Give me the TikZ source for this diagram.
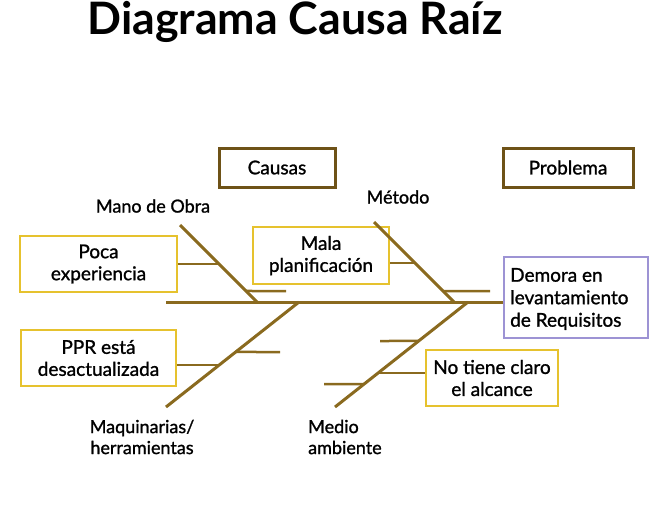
\documentclass[tikz,border=0pt]{standalone}
\usepackage{fontspec}
\setmainfont{Lato}
\newfontfamily\semilato[FakeBold=1.2]{Lato}

\definecolor{bonebrown}{HTML}{8A6A1F}
\definecolor{headbrown}{HTML}{6E5217}
\definecolor{causeyellow}{HTML}{E6C22E}
\definecolor{effectpurple}{HTML}{9D93D4}

\tikzstyle{fishfig}=[x=1pt,y=-1pt,font=\semilato]
\tikzstyle{bone}=[line width=3pt,draw=bonebrown]
\tikzstyle{rib}=[line width=2.5pt,draw=bonebrown]
\tikzstyle{causebox}=[draw=causeyellow,line width=2.5pt,align=center,
  font=\semilato\fontsize{19}{22}\selectfont,inner sep=0pt]
\tikzstyle{headbox}=[draw=headbrown,line width=3pt,
  font=\semilato\fontsize{19}{22}\selectfont,inner sep=0pt]
\tikzstyle{tag}=[font=\semilato\fontsize{18}{21}\selectfont,inner sep=0pt]

\begin{document}
\begin{tikzpicture}[style=fishfig]
\useasboundingbox (0,0) rectangle (668,507);

\node[font=\rmfamily\bfseries\fontsize{44.7}{50}\selectfont] (title) at (295,22) {Diagrama Causa Raíz};

\node[headbox,minimum width=116pt,minimum height=39pt] (causas) at (277,167.5) {Causas};
\node[headbox,minimum width=130pt,minimum height=39pt] (problema) at (568,167.5) {Problema};

\node[causebox,minimum width=157pt,minimum height=56pt] (poca) at (98.5,264) {Poca\\experiencia};
\node[causebox,minimum width=155pt,minimum height=56pt] (ppr) at (98.5,358) {PPR está\\desactualizada};
\node[causebox,minimum width=136pt,minimum height=57pt] (mala) at (321,255.5) {Mala\\planificación};
\node[causebox,minimum width=132pt,minimum height=56pt] (alcance) at (492,378) {No tiene claro\\el alcance};
\node[draw=effectpurple,line width=2.5pt,minimum width=144pt,minimum height=81pt,
  inner sep=0pt] (demora) at (576,297.5) {};
\node[anchor=west,align=left,font=\semilato\fontsize{19}{22.5}\selectfont,inner sep=0pt]
  (demoratxt) at (510,299) {Demora en\\levantamiento\\de Requisitos};

\node[tag] (mano) at (153,206) {Mano de Obra};
\node[tag] (metodo) at (398,197) {Método};
\node[tag,align=center] (maq) at (142,437) {Maquinarias/\\herramientas};
\node[tag,align=left,anchor=west] (medio) at (308,437) {Medio\\ambiente};

% espina
\coordinate (tail) at (166,302);
\draw[bone] (tail) -- (demora.west |- tail);

% huesos
\coordinate (manoTop) at (180,225);  \coordinate (manoEnd) at (257,302);
\coordinate (metTop) at (374,222);   \coordinate (metEnd) at (454,302);
\coordinate (maqEnd) at (299,302);   \coordinate (maqBot) at (166,407);
\coordinate (medEnd) at (468,302);   \coordinate (medBot) at (335,407);
\draw[bone] (manoTop) -- (manoEnd) coordinate[pos=0.506] (m1) coordinate[pos=0.857] (m2);
\draw[bone] (metTop) -- (metEnd) coordinate[pos=0.5125] (t1) coordinate[pos=0.8625] (t2);
\draw[bone] (maqEnd) -- (maqBot) coordinate[pos=0.476] (q1) coordinate[pos=0.6] (q2);
\draw[bone] (medEnd) -- (medBot) coordinate[pos=0.371] (d1) coordinate[pos=0.676] (d2) coordinate[pos=0.781] (d3);

% espinas menores
\coordinate (m2end) at (286,291);
\coordinate (t2end) at (490,291);
\coordinate (q1end) at (280,352);
\coordinate (d1end) at (380,341);
\coordinate (d3end) at (324,384);
\draw[rib] (poca.east) -- (poca.east -| m1);
\draw[rib] (m2) -- (m2end);
\draw[rib] (mala.east |- t1) -- (t1);
\draw[rib] (t2) -- (t2end);
\draw[rib] (q1) -- (q1end);
\draw[rib] (ppr.east |- q2) -- (q2);
\draw[rib] (d1end) -- (d1);
\draw[rib] (alcance.west |- d2) -- (d2);
\draw[rib] (d3end) -- (d3);
\end{tikzpicture}
\end{document}
